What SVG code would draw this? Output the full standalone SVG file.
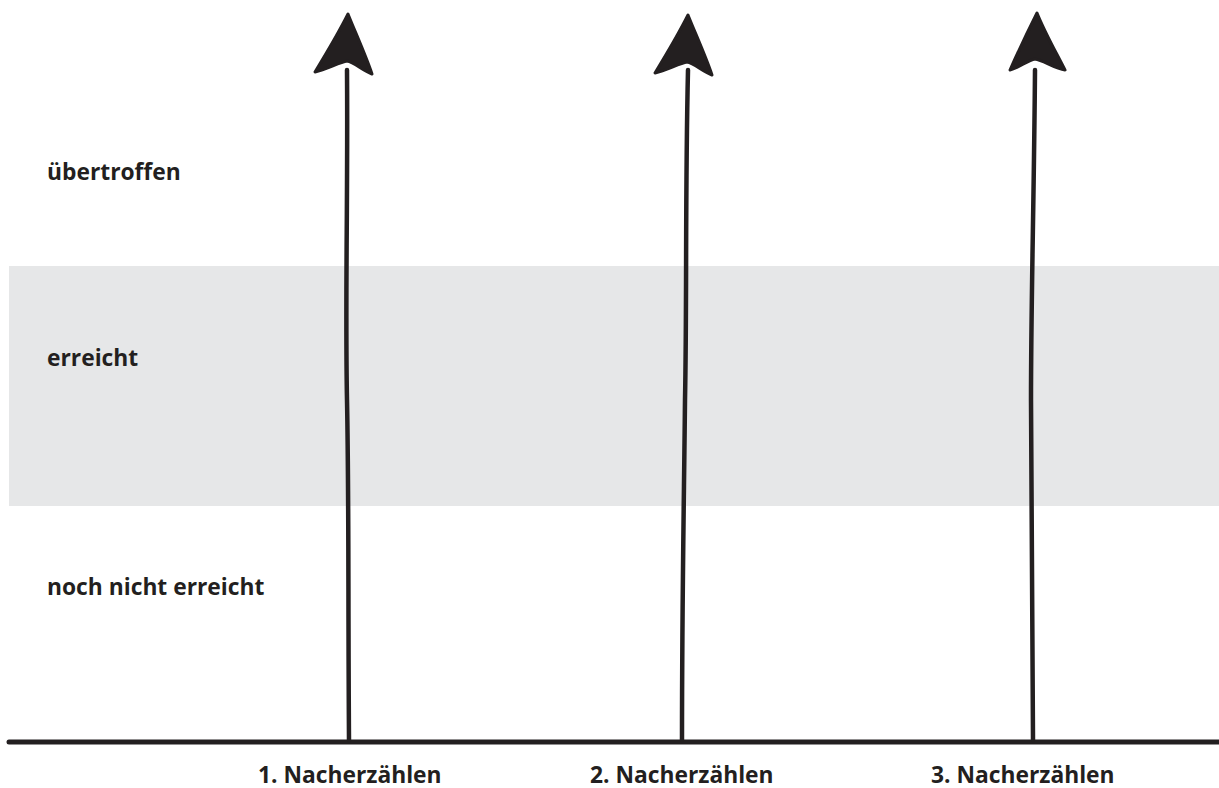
<svg xmlns="http://www.w3.org/2000/svg" width="1219" height="788" viewBox="0 0 1219 788">
<style>
.lbl{font-family:"Open Sans","Noto Sans","Liberation Sans",sans-serif;font-weight:700;font-size:22.8px;fill:#231f20}
.shaft{fill:none;stroke:#231f20;stroke-width:4.5;stroke-linecap:round}
.head{fill:#231f20;stroke:#231f20;stroke-width:3;stroke-linejoin:round}
</style>
<rect id="band" x="9" y="266" width="1210" height="240" fill="#e6e7e8"/>
<g id="levels">
<text class="lbl" x="47" y="180">übertroffen</text>
<text class="lbl" x="47" y="366">erreicht</text>
<text class="lbl" x="47" y="595">noch nicht erreicht</text>
</g>
<g id="connectors">
<line x1="9" y1="742" x2="1219" y2="742" stroke="#231f20" stroke-width="5" stroke-linecap="round"/>
<path class="shaft" d="M349 740 C348 600 349 500 347 400 C345 300 348 200 347 70"/>
<path class="head" d="M348 14 C356 34 366 56 372 74 C362 70 354 62 347 61 C340 62 327 69 315 72 C326 54 339 32 348 14 Z"/>
<path class="shaft" d="M682 740 C682 600 684 500 685 400 C687 300 685 200 688 70"/>
<path class="head" d="M688 15 C696 35 706 57 712 75 C702 71 694 63 687 62 C680 63 667 70 655 73 C666 55 679 33 688 15 Z"/>
<path class="shaft" d="M1033 740 C1032 600 1031 500 1031 400 C1031 300 1034 200 1035 70"/>
<path class="head" d="M1037 13 C1045 33 1057 54 1065 70 C1055 69 1043 60 1035 59 C1028 60 1019 68 1010 70 C1018 52 1028 31 1037 13 Z"/>
</g>
<g id="timepoints">
<text class="lbl" x="258" y="783">1. Nacherzählen</text>
<text class="lbl" x="590" y="783">2. Nacherzählen</text>
<text class="lbl" x="931" y="783">3. Nacherzählen</text>
</g>
</svg>
